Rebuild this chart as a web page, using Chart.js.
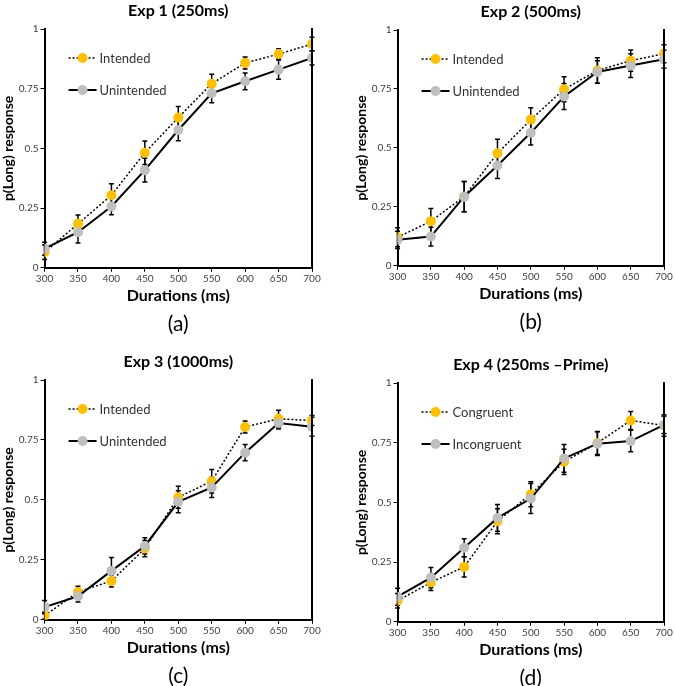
<!DOCTYPE html>
<html>
<head>
<meta charset="utf-8">
<script src="https://cdn.jsdelivr.net/npm/chart.js@4/dist/chart.umd.min.js"></script>
<style>
  body { margin: 0; background: #fff; }
  #wrap { position: relative; width: 675px; height: 686px; }
  .panel { position: absolute; }
</style>
</head>
<body>
<div id="wrap">
  <div class="panel" style="left:0px;top:0px;width:337px;height:340px"><canvas id="c1"></canvas></div>
  <div class="panel" style="left:353px;top:0px;width:322px;height:340px"><canvas id="c2"></canvas></div>
  <div class="panel" style="left:0px;top:345px;width:337px;height:341px"><canvas id="c3"></canvas></div>
  <div class="panel" style="left:353px;top:345px;width:322px;height:341px"><canvas id="c4"></canvas></div>
</div>
<script>
// x values (ms)
var durations = [300, 350, 400, 450, 500, 550, 600, 650, 700];
var yTicks = [0, 0.25, 0.5, 0.75, 1];

// Exp 1 (250ms)
var exp1Intended     = [0.065, 0.184, 0.304, 0.482, 0.629, 0.771, 0.858, 0.895, 0.937];
var exp1IntendedErr  = [0.030, 0.037, 0.048, 0.049, 0.046, 0.039, 0.025, 0.022, 0.028];
var exp1Unintended   = [0.080, 0.149, 0.257, 0.409, 0.577, 0.731, 0.781, 0.830, 0.879];
var exp1UnintendedErr= [0.027, 0.045, 0.035, 0.050, 0.045, 0.040, 0.035, 0.040, 0.030];

// Exp 2 (500ms)
var exp2Intended     = [0.121, 0.189, 0.293, 0.477, 0.620, 0.749, 0.828, 0.870, 0.899];
var exp2IntendedErr  = [0.040, 0.054, 0.064, 0.060, 0.050, 0.053, 0.054, 0.045, 0.038];
var exp2Unintended   = [0.110, 0.124, 0.293, 0.425, 0.564, 0.718, 0.822, 0.849, 0.876];
var exp2UnintendedErr= [0.037, 0.040, 0.064, 0.055, 0.052, 0.055, 0.048, 0.050, 0.038];

// Exp 3 (1000ms)
var exp3Intended     = [0.017, 0.116, 0.162, 0.297, 0.511, 0.578, 0.804, 0.838, 0.831];
var exp3IntendedErr  = [0.015, 0.024, 0.025, 0.034, 0.046, 0.049, 0.025, 0.036, 0.021];
var exp3Unintended   = [0.053, 0.098, 0.204, 0.308, 0.492, 0.552, 0.697, 0.821, 0.805];
var exp3UnintendedErr= [0.028, 0.024, 0.056, 0.034, 0.046, 0.042, 0.034, 0.025, 0.040];

// Exp 4 (250ms -Prime)
var exp4Congruent      = [0.088, 0.165, 0.230, 0.421, 0.534, 0.670, 0.749, 0.843, 0.822];
var exp4CongruentErr   = [0.030, 0.034, 0.042, 0.052, 0.052, 0.053, 0.048, 0.038, 0.045];
var exp4Incongruent    = [0.105, 0.185, 0.310, 0.435, 0.516, 0.684, 0.746, 0.757, 0.825];
var exp4IncongruentErr = [0.036, 0.042, 0.038, 0.056, 0.063, 0.058, 0.050, 0.045, 0.036];

var FONT = "Lato";
var YELLOW = "#FFC000";
var GREY = "#BFBFBF";

// error bars, drawn under the markers
var errorBars = {
  id: 'errorBars',
  beforeDatasetsDraw: function(chart) {
    var ctx = chart.ctx;
    var xs = chart.scales.x, ys = chart.scales.y;
    ctx.save();
    ctx.strokeStyle = '#000';
    ctx.lineWidth = 1.5;
    chart.data.datasets.forEach(function(ds) {
      ds.data.forEach(function(p, i) {
        var e = ds.errors[i];
        var x = xs.getPixelForValue(p.x);
        var top = ys.getPixelForValue(p.y + e);
        var bot = ys.getPixelForValue(p.y - e);
        ctx.beginPath();
        ctx.moveTo(x, top); ctx.lineTo(x, bot);
        ctx.moveTo(x - 2.5, top); ctx.lineTo(x + 2.5, top);
        ctx.moveTo(x - 2.5, bot); ctx.lineTo(x + 2.5, bot);
        ctx.stroke();
      });
    });
    ctx.restore();
  }
};

// right frame line, legend inside plot area, title and panel letter centred on the plot
var frameAndLegend = {
  id: 'frameAndLegend',
  afterDraw: function(chart) {
    var ctx = chart.ctx;
    var a = chart.chartArea;
    var opts = chart.options.panel;
    ctx.save();
    ctx.strokeStyle = '#000';
    ctx.lineWidth = 2;
    ctx.beginPath();
    ctx.moveTo(a.right, a.top - 1);
    ctx.lineTo(a.right, a.bottom);
    ctx.stroke();

    var lx = a.left + 24;
    chart.data.datasets.forEach(function(ds, i) {
      var ly = a.top + 29 + i * 32;
      ctx.strokeStyle = '#000';
      ctx.lineWidth = ds.borderWidth;
      ctx.setLineDash(ds.borderDash || []);
      ctx.beginPath();
      ctx.moveTo(lx, ly); ctx.lineTo(lx + 28, ly);
      ctx.stroke();
      ctx.setLineDash([]);
      ctx.fillStyle = ds.pointBackgroundColor;
      ctx.beginPath();
      ctx.arc(lx + 14, ly, 5, 0, Math.PI * 2);
      ctx.fill();
      ctx.fillStyle = '#333';
      ctx.font = '13px ' + FONT;
      ctx.textBaseline = 'middle';
      ctx.textAlign = 'left';
      ctx.fillText(ds.label, lx + 31, ly + 1);
    });

    var cx = (a.left + a.right) / 2;
    ctx.textAlign = 'center';
    ctx.textBaseline = 'middle';
    ctx.fillStyle = '#000';
    ctx.font = 'bold 16px ' + FONT;
    ctx.fillText(opts.title, cx, a.top - 18);
    ctx.font = '21px ' + FONT;
    ctx.fillText(opts.letter, cx, a.bottom + 56);
    ctx.restore();
  }
};

function toPoints(vals) {
  return vals.map(function(v, i) { return { x: durations[i], y: v }; });
}

function make_chart(id, title, letter, pad, names, dotted, solid, dottedErr, solidErr) {
  var ctx = document.getElementById(id).getContext('2d');
  return new Chart(ctx, {
    type: 'line',
    data: {
      datasets: [{
        label: names[0],
        data: toPoints(dotted),
        errors: dottedErr,
        borderColor: '#000',
        borderWidth: 1.5,
        borderDash: [2, 2],
        pointRadius: 5,
        pointBorderWidth: 0,
        pointBackgroundColor: YELLOW,
        pointBorderColor: YELLOW,
        tension: 0,
        order: 2
      }, {
        label: names[1],
        data: toPoints(solid),
        errors: solidErr,
        borderColor: '#000',
        borderWidth: 2,
        pointRadius: 5,
        pointBorderWidth: 0,
        pointBackgroundColor: GREY,
        pointBorderColor: GREY,
        tension: 0,
        order: 1
      }]
    },
    options: {
      responsive: true,
      maintainAspectRatio: false,
      animation: false,
      panel: { title: title, letter: letter },
      layout: { padding: pad },
      plugins: {
        legend: { display: false },
        tooltip: { enabled: false }
      },
      scales: {
        x: {
          type: 'linear',
          min: 300,
          max: 700,
          afterBuildTicks: function(s) { s.ticks = durations.map(function(v) { return { value: v }; }); },
          grid: { display: true, drawOnChartArea: false, drawTicks: true, tickLength: 4, color: '#000' },
          border: { display: true, color: '#000', width: 2 },
          ticks: { color: '#404040', padding: 1, maxRotation: 0, autoSkip: false, font: { family: FONT, size: 10 } },
          title: {
            display: true,
            text: 'Durations (ms)',
            color: '#000',
            font: { family: FONT, size: 16, weight: 'bold' },
            padding: { top: 0, bottom: 0 }
          }
        },
        y: {
          min: 0,
          max: 1,
          afterBuildTicks: function(s) { s.ticks = yTicks.map(function(v) { return { value: v }; }); },
          grid: { display: true, drawOnChartArea: false, drawTicks: true, tickLength: 4, color: '#000' },
          border: { display: true, color: '#000', width: 2 },
          ticks: {
            color: '#404040', padding: 2, font: { family: FONT, size: 10 },
            callback: function(v) { return String(v); }
          },
          title: {
            display: true,
            text: 'p(Long) response',
            color: '#000',
            font: { family: FONT, size: 14, weight: 'bold' },
            padding: { top: 0, bottom: 0 }
          }
        }
      }
    },
    plugins: [errorBars, frameAndLegend]
  });
}

make_chart('c1', 'Exp 1 (250ms)', '(a)', { left: 0, right: 25, top: 29, bottom: 35 }, ['Intended', 'Unintended'],
  exp1Intended, exp1Unintended, exp1IntendedErr, exp1UnintendedErr);
make_chart('c2', 'Exp 2 (500ms)', '(b)', { left: 0, right: 11, top: 30, bottom: 37 }, ['Intended', 'Unintended'],
  exp2Intended, exp2Unintended, exp2IntendedErr, exp2UnintendedErr);
make_chart('c3', 'Exp 3 (1000ms)', '(c)', { left: 0, right: 25, top: 35, bottom: 29 }, ['Intended', 'Unintended'],
  exp3Intended, exp3Unintended, exp3IntendedErr, exp3UnintendedErr);
make_chart('c4', 'Exp 4 (250ms \u2013Prime)', '(d)', { left: 0, right: 11, top: 38, bottom: 27 }, ['Congruent', 'Incongruent'],
  exp4Congruent, exp4Incongruent, exp4CongruentErr, exp4IncongruentErr);
</script>
</body>
</html>
